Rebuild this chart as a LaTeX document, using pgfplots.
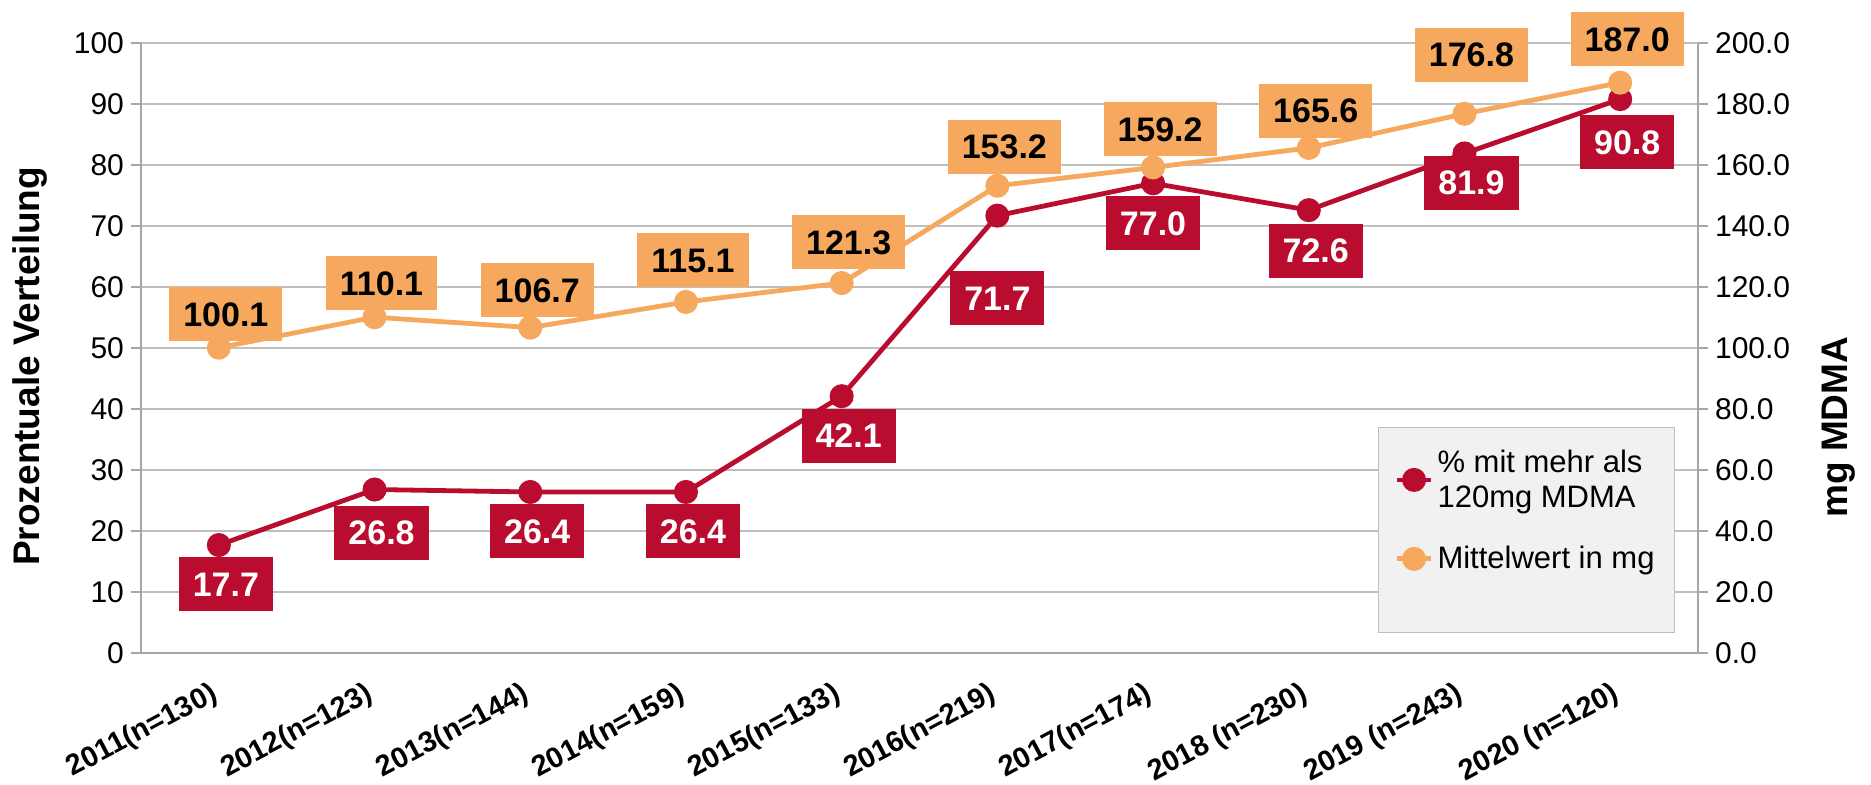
\documentclass[border=0pt]{standalone}
\usepackage{fontspec}
\setmainfont{Liberation Sans}
\usepackage{pgfplots}
\usepackage{pgfplotstable}
\pgfplotsset{compat=1.18}
\definecolor{cred}{RGB}{186,12,47}
\definecolor{corange}{RGB}{246,169,94}
\definecolor{cgrid}{RGB}{191,191,191}
\definecolor{caxis}{RGB}{166,166,166}
\definecolor{clegend}{RGB}{241,241,241}

\pgfplotstableread{
x pct lab dy dx
0 17.7 17.7 -19.7 3.5
1 26.8 26.8 -21.5 3.5
2 26.4 26.4 -19.7 3.5
3 26.4 26.4 -19.7 3.5
4 42.1 42.1 -19.7 3.5
5 71.7 71.7 -41.4 0
6 77.0 77.0 -20.0 0
7 72.6 72.6 -20.3 3.5
8 81.9 81.9 -14.6 3.5
9 90.8 90.8 -21.5 3.5
}\redtab

\pgfplotstableread{
x mg lab dy dx
0 100.1 100.1 16.7 3.5
1 110.1 110.1 17.1 3.5
2 106.7 106.7 18.7 3.5
3 115.1 115.1 20.9 3.5
4 121.3 121.3 20.3 3.5
5 153.2 153.2 19.5 3.5
6 159.2 159.2 19.2 3.5
7 165.6 165.6 18.5 3.5
8 176.8 176.8 29.4 3.5
9 187.0 187.0 21.6 3.5
}\orangetab

\pgfplotsset{
  base/.style={
    scale only axis, width=778.5pt, height=305pt,
    xmin=-0.5, xmax=9.5,
    ymin=0,
    axis line style={caxis, line width=0.8pt},
    tick style={caxis, line width=0.8pt},
    major tick length=5pt,
    tick align=outside,
    /pgf/number format/assume math mode=true,
    yticklabel style={font=\fontsize{15}{15}\selectfont},
    ylabel style={font=\bfseries\fontsize{18.5}{18.5}\selectfont},
  },
}

\begin{document}
\begin{tikzpicture}
\begin{axis}[base,
  ymax=100, ytick={0,10,...,100},
  axis y line*=left, axis x line*=bottom,
  ymajorgrids, grid style={cgrid, line width=0.8pt},
  xtick={0,...,9},
  xtick style={draw=none},
  xticklabels={2011(n=130),2012(n=123),2013(n=144),2014(n=159),2015(n=133),2016(n=219),2017(n=174),2018 (n=230),2019 (n=243),2020 (n=120)},
  xticklabel style={font=\bfseries\fontsize{14.5}{14.5}\selectfont, rotate=28, anchor=north east, yshift=-2pt, xshift=-5pt},
  ylabel={Prozentuale Verteilung},
  ylabel style={at={(axis description cs:-0.0713,0.47)}, anchor=center},
]
\addplot[cred, line width=2.4pt, mark=*, mark size=4.8pt,
  nodes near coords, point meta=explicit symbolic,
  visualization depends on={\thisrow{dy} \as \dy},
  visualization depends on={\thisrow{dx} \as \dx},
  every node near coord/.append style={anchor=center, yshift=\dy pt, xshift=\dx pt,
    fill=cred, text=white, font=\bfseries\fontsize{17}{17}\selectfont,
    inner xsep=7pt, inner ysep=7.5pt, text height=12pt, text depth=0pt}]
  table[x=x, y=pct, meta=lab] {\redtab};
\end{axis}
\begin{axis}[base,
  ymax=200, ytick={0,20,...,200},
  axis y line*=right, axis x line=none,
  yticklabel style={/pgf/number format/.cd, fixed, fixed zerofill, precision=1},
  ylabel={mg MDMA},
  ylabel style={at={(axis description cs:1.0906,0.37)}, anchor=center, rotate=0},
  legend style={at={(axis description cs:0.9852,0.0328)}, anchor=south east,
    draw=cgrid, fill=clegend, font=\fontsize{15.5}{17.5}\selectfont,
    cells={align=left, anchor=west}, inner xsep=8pt, inner ysep=9pt, row sep=14pt},
  legend cell align=left,
]
\addlegendimage{cred, line width=2.4pt, mark=*, mark size=4.8pt}
\addlegendentry{\% mit mehr als\\120mg MDMA}
\addplot[corange, line width=2.4pt, mark=*, mark size=4.8pt,
  nodes near coords, point meta=explicit symbolic,
  visualization depends on={\thisrow{dy} \as \dy},
  visualization depends on={\thisrow{dx} \as \dx},
  every node near coord/.append style={anchor=center, yshift=\dy pt, xshift=\dx pt,
    fill=corange, text=black, font=\bfseries\fontsize{17}{17}\selectfont,
    inner xsep=7pt, inner ysep=7.5pt, text height=12pt, text depth=0pt}]
  table[x=x, y=mg, meta=lab] {\orangetab};
\addlegendentry{Mittelwert in mg}
\addlegendimage{empty legend}
\addlegendentry{}
\end{axis}
\pgfresetboundingbox
\path[use as bounding box] (-70.5pt,-65.5pt) rectangle (865pt,326.5pt);
\end{tikzpicture}
\end{document}
